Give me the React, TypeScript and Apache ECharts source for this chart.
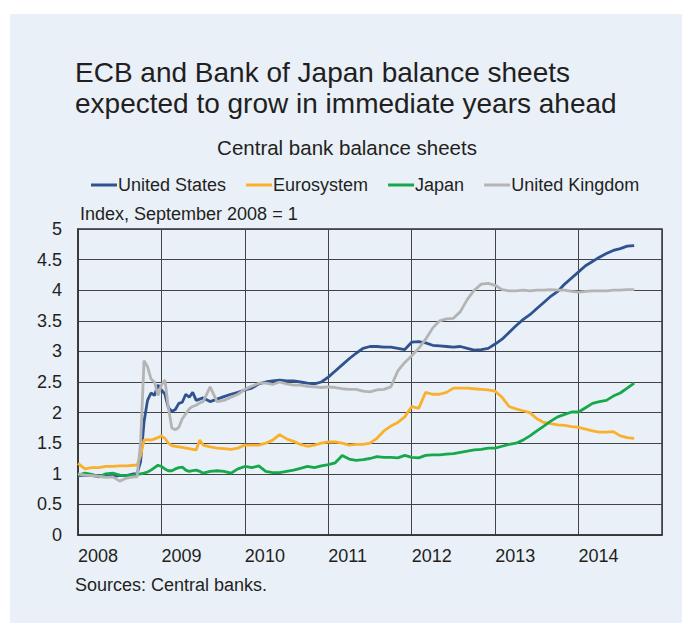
import React, { useEffect, useRef } from "react";
import * as echarts from "echarts";

const dates = [
  "2008-01-01", "2008-02-01", "2008-03-01", "2008-04-01", "2008-05-01", "2008-06-01", "2008-07-01", "2008-08-01", "2008-09-01",
  "2008-09-16", "2008-10-01", "2008-10-16", "2008-11-01", "2008-11-16", "2008-12-01", "2008-12-16",
  "2009-01-01", "2009-01-16", "2009-02-01", "2009-02-16", "2009-03-01", "2009-03-16", "2009-04-01", "2009-04-16",
  "2009-05-01", "2009-05-16", "2009-06-01", "2009-06-16",
  "2009-07-01", "2009-08-01", "2009-09-01", "2009-10-01", "2009-11-01", "2009-12-01",
  "2010-01-01", "2010-02-01", "2010-03-01", "2010-04-01", "2010-05-01", "2010-06-01",
  "2010-07-01", "2010-08-01", "2010-09-01", "2010-10-01", "2010-11-01", "2010-12-01",
  "2011-01-01", "2011-02-01", "2011-03-01", "2011-04-01", "2011-05-01", "2011-06-01",
  "2011-07-01", "2011-08-01", "2011-09-01", "2011-10-01", "2011-11-01", "2011-12-01",
  "2012-01-01", "2012-02-01", "2012-03-01", "2012-04-01", "2012-05-01", "2012-06-01",
  "2012-07-01", "2012-08-01", "2012-09-01", "2012-10-01", "2012-11-01", "2012-12-01",
  "2013-01-01", "2013-02-01", "2013-03-01", "2013-04-01", "2013-05-01", "2013-06-01",
  "2013-07-01", "2013-08-01", "2013-09-01", "2013-10-01", "2013-11-01", "2013-12-01",
  "2014-01-01", "2014-02-01", "2014-03-01", "2014-04-01", "2014-05-01", "2014-06-01",
  "2014-07-01", "2014-08-01", "2014-09-01",
];

const unitedStates = [
  0.97, 0.98, 0.97, 0.96, 0.97, 0.96, 0.97, 0.97, 1.0,
  1.0, 1.2, 1.85, 2.2, 2.32, 2.28, 2.45, 2.37, 2.3, 2.08, 2.02, 2.05, 2.15, 2.17, 2.3, 2.25, 2.33, 2.2, 2.22,
  2.24, 2.18, 2.22, 2.26, 2.3, 2.33, 2.37, 2.4, 2.47, 2.5,
  2.52, 2.53, 2.52, 2.52, 2.5, 2.48, 2.47, 2.5, 2.58, 2.68,
  2.78, 2.88, 2.97, 3.05, 3.08, 3.08, 3.07, 3.07, 3.05, 3.03,
  3.15, 3.16, 3.14, 3.1, 3.09, 3.08, 3.07, 3.08, 3.05, 3.02,
  3.03, 3.05, 3.12, 3.2, 3.31, 3.42, 3.52, 3.6, 3.7, 3.8,
  3.9, 3.98, 4.1, 4.2, 4.3, 4.4, 4.47, 4.54, 4.6, 4.65,
  4.68, 4.72, 4.73,
];

const eurosystem = [
  1.17, 1.08, 1.1, 1.1, 1.12, 1.12, 1.13, 1.13, 1.14,
  1.14, 1.3, 1.55, 1.56, 1.55, 1.57, 1.59, 1.62, 1.58, 1.5, 1.46, 1.45, 1.44, 1.43, 1.42, 1.41, 1.4, 1.39, 1.55,
  1.47, 1.44, 1.42, 1.41, 1.4, 1.42, 1.47, 1.47, 1.47, 1.5,
  1.55, 1.64, 1.57, 1.53, 1.48, 1.45, 1.47, 1.5, 1.52, 1.52,
  1.5, 1.47, 1.48, 1.48, 1.5, 1.58, 1.7, 1.78, 1.84, 1.93,
  2.1, 2.07, 2.33, 2.3, 2.3, 2.33, 2.4, 2.4, 2.4, 2.39,
  2.38, 2.37, 2.35, 2.25, 2.1, 2.06, 2.03, 2.0, 1.9, 1.84,
  1.82, 1.8, 1.79, 1.77, 1.76, 1.73, 1.7, 1.68, 1.68, 1.69,
  1.62, 1.59, 1.58,
];

const japan = [
  0.98, 1.01, 0.99, 0.95, 1.0, 1.01, 0.98, 0.97, 0.98,
  0.99, 1.0, 1.01, 1.03, 1.06, 1.1, 1.14, 1.12, 1.08, 1.05, 1.05, 1.08, 1.1, 1.11, 1.06, 1.04, 1.05, 1.06, 1.04,
  1.01, 1.04, 1.05, 1.04, 1.01, 1.08, 1.12, 1.1, 1.13, 1.04,
  1.02, 1.02, 1.04, 1.06, 1.09, 1.12, 1.1, 1.13, 1.15, 1.18,
  1.3, 1.24, 1.22, 1.23, 1.25, 1.28, 1.27, 1.27, 1.26, 1.3,
  1.27, 1.26, 1.3, 1.31, 1.31, 1.32, 1.33, 1.35, 1.37, 1.39,
  1.4, 1.42, 1.42, 1.45, 1.48, 1.5, 1.55, 1.62, 1.7, 1.78,
  1.86, 1.93, 1.97, 2.01, 2.01, 2.08, 2.15, 2.18, 2.2, 2.27,
  2.32, 2.4, 2.48,
];

const unitedKingdom = [
  1.0, 0.98, 0.97, 0.96, 0.94, 0.95, 0.88, 0.93, 0.95,
  0.95, 1.5, 2.85, 2.75, 2.55, 2.5, 2.28, 2.45, 2.53, 2.08, 1.75, 1.72, 1.76, 1.9, 1.98, 2.06, 2.1, 2.12, 2.16,
  2.18, 2.42, 2.18, 2.2, 2.25, 2.3, 2.38, 2.43, 2.48, 2.48,
  2.46, 2.5, 2.47, 2.45, 2.45, 2.43, 2.42, 2.41, 2.42, 2.41,
  2.39, 2.38, 2.38, 2.35, 2.34, 2.37, 2.38, 2.42, 2.68, 2.82,
  2.93, 3.05, 3.2, 3.38, 3.5, 3.53, 3.54, 3.65, 3.85, 4.0,
  4.1, 4.11, 4.08, 4.01, 3.99, 3.99, 4.0, 3.99, 4.0, 4.0,
  4.01, 4.0, 4.0, 3.98, 3.97, 3.98, 3.99, 3.99, 3.99, 4.0,
  4.0, 4.01, 4.01,
];

const seriesNames = ["United States", "Eurosystem", "Japan", "United Kingdom"];
const seriesColors = ["#2F5290", "#FBB02C", "#17A84B", "#B4B4B4"];
const yearTicks = [2008, 2009, 2010, 2011, 2012, 2013, 2014];

const FONT = "'Liberation Sans', Arial, Helvetica, sans-serif";
const TEXT = "#231F20";

function toYear(d: string): number {
  const [y, m, day] = d.split("-").map(Number);
  return y + (m - 1 + (day - 1) / 30) / 12;
}

export default function App() {
  const ref = useRef<HTMLDivElement>(null);
  useEffect(() => {
    if (!ref.current) return;
    const chart = echarts.init(ref.current, undefined, { renderer: "svg" });
    const values = [unitedStates, eurosystem, japan, unitedKingdom];
    const series = seriesNames.map((name, i) => ({
      name,
      type: "line",
      showSymbol: false,
      symbol: "none",
      data: dates.map((d, j) => [toYear(d), values[i][j]]),
      lineStyle: { color: seriesColors[i], width: 2.8 },
      itemStyle: { color: seriesColors[i] },
      z: 3,
    }));
    chart.setOption({
      animation: false,
      backgroundColor: "#ffffff",
      graphic: [
        { type: "rect", z: -10, shape: { x: 10, y: 14, width: 672, height: 609 }, style: { fill: "#E9F0F8" } },
        {
          type: "text", x: 75, y: 72,
          style: { text: "ECB and Bank of Japan balance sheets", fill: TEXT, fontSize: 28, fontFamily: FONT, textVerticalAlign: "middle" },
        },
        {
          type: "text", x: 75, y: 103,
          style: { text: "expected to grow in immediate years ahead", fill: TEXT, fontSize: 28, fontFamily: FONT, textVerticalAlign: "middle" },
        },
        {
          type: "text", x: 347, y: 147,
          style: { text: "Central bank balance sheets", fill: TEXT, fontSize: 20.5, fontFamily: FONT, textAlign: "center", textVerticalAlign: "middle" },
        },
        {
          type: "text", x: 80, y: 214,
          style: { text: "Index, September 2008 = 1", fill: TEXT, fontSize: 18, fontFamily: FONT, textVerticalAlign: "middle" },
        },
        {
          type: "text", x: 75, y: 585,
          style: { text: "Sources: Central banks.", fill: TEXT, fontSize: 18, fontFamily: FONT, textVerticalAlign: "middle" },
        },
      ],
      legend: {
        left: 86,
        top: 171,
        icon: "rect",
        itemWidth: 26,
        itemHeight: 3,
        itemGap: 20,
        data: seriesNames,
        textStyle: { fontSize: 18, color: TEXT, fontFamily: FONT, padding: [0, 0, 0, -4] },
      },
      grid: {
        left: 78,
        top: 229,
        width: 584,
        height: 306,
        show: true,
        borderColor: "#333333",
        borderWidth: 1.5,
        backgroundColor: "transparent",
      },
      xAxis: {
        type: "value",
        min: 2008,
        max: 2015,
        interval: 1,
        axisLine: { show: true, lineStyle: { color: "#333333", width: 1.5 } },
        axisTick: { show: false },
        splitLine: { show: true, lineStyle: { color: "#444444", width: 1 } },
        axisLabel: {
          show: true,
          margin: 12,
          align: "left",
          fontSize: 18,
          color: TEXT,
          fontFamily: FONT,
          formatter: (v: number) => (yearTicks.includes(v) ? String(v) : ""),
        },
      },
      yAxis: {
        type: "value",
        min: 0,
        max: 5,
        interval: 0.5,
        axisLine: { show: true, lineStyle: { color: "#333333", width: 1.5 } },
        axisTick: { show: false },
        splitLine: { show: true, lineStyle: { color: "#444444", width: 1 } },
        axisLabel: { margin: 16, fontSize: 18, color: TEXT, fontFamily: FONT },
      },
      series,
    });
    return () => chart.dispose();
  }, []);
  return <div ref={ref} style={{ position: "absolute", left: 0, top: 0, width: 682, height: 623 }} />;
}
